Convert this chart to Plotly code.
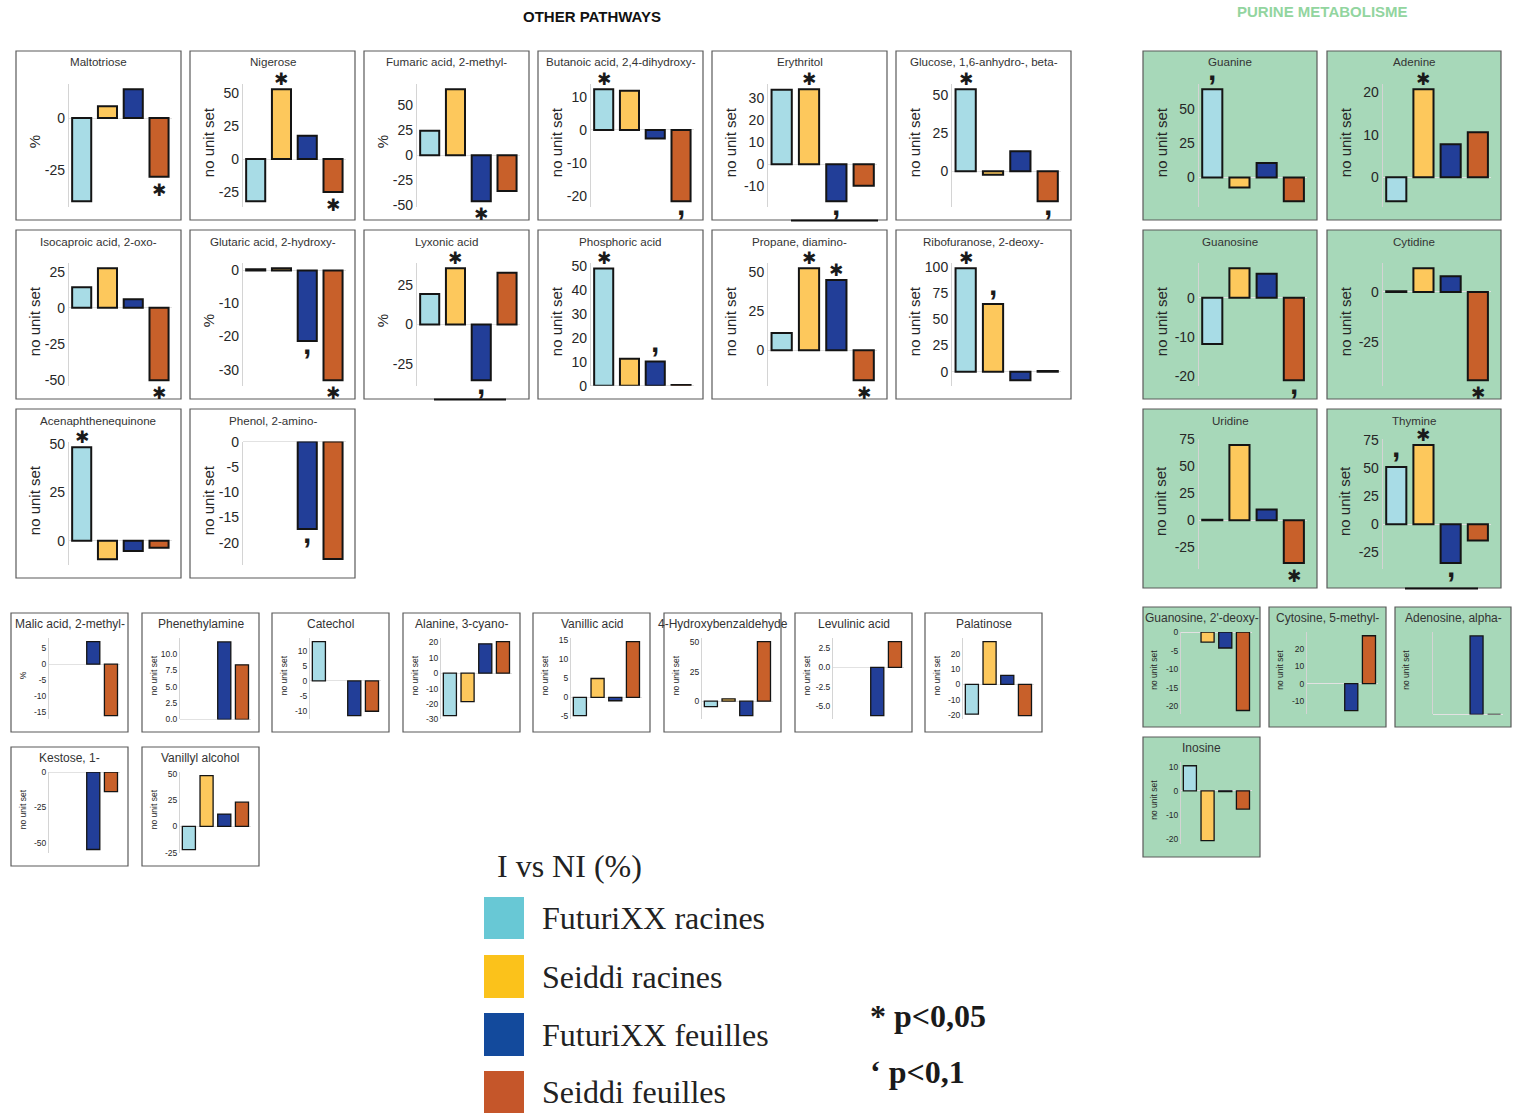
import plotly.graph_objects as go

W, H = 1520, 1113

# ---------------- data ----------------
CATEGORIES = ["FuturiXX racines", "Seiddi racines", "FuturiXX feuilles", "Seiddi feuilles"]
BAR_COLORS = ["#a8dce6", "#fdc85c", "#223e98", "#c8602a"]
LEGEND_COLORS = ["#68c8d5", "#fbc21b", "#134a9c", "#c5562a"]

TITLES = [
    "Maltotriose", "Nigerose", "Fumaric acid, 2-methyl-", "Butanoic acid, 2,4-dihydroxy-",
    "Erythritol", "Glucose, 1,6-anhydro-, beta-",
    "Isocaproic acid, 2-oxo-", "Glutaric acid, 2-hydroxy-", "Lyxonic acid", "Phosphoric acid",
    "Propane, diamino-", "Ribofuranose, 2-deoxy-",
    "Acenaphthenequinone", "Phenol, 2-amino-",
    "Malic acid, 2-methyl-", "Phenethylamine", "Catechol", "Alanine, 3-cyano-",
    "Vanillic acid", "4-Hydroxybenzaldehyde", "Levulinic acid", "Palatinose",
    "Kestose, 1-", "Vanillyl alcohol",
    "Guanine", "Adenine", "Guanosine", "Cytidine", "Uridine", "Thymine",
    "Guanosine, 2'-deoxy-", "Cytosine, 5-methyl-", "Adenosine, alpha-", "Inosine",
]

YLABELS = [
    "%", "no unit set", "%", "no unit set", "no unit set", "no unit set",
    "no unit set", "%", "%", "no unit set", "no unit set", "no unit set",
    "no unit set", "no unit set",
    "%", "no unit set", "no unit set", "no unit set",
    "no unit set", "no unit set", "no unit set", "no unit set",
    "no unit set", "no unit set",
    "no unit set", "no unit set", "no unit set", "no unit set", "no unit set", "no unit set",
    "no unit set", "no unit set", "no unit set", "no unit set",
]

VALUES = [
    [-40.1, 5.7, 13.9, -28.3],
    [-32.0, 53.0, 17.6, -25.0],
    [24.7, 66.4, -46.2, -36.0],
    [12.4, 11.9, -2.6, -21.7],
    [33.7, 34.0, -16.8, -9.8],
    [53.8, -2.2, 13.1, -19.6],
    [14.2, 27.4, 5.9, -50.1],
    [0.4, 0.7, -21.3, -33.2],
    [19.1, 35.3, -35.0, 32.5],
    [49.1, 11.3, 10.2, 0.3],
    [11.1, 52.8, 45.2, -19.3],
    [98.7, 64.5, -8.0, 0.8],
    [48.3, -9.6, -5.4, -3.7],
    [None, None, -17.3, -23.2],
    [None, None, 7.0, -16.0],
    [None, None, 11.8, 8.3],
    [13.2, None, -11.7, -10.2],
    [-27.7, -18.5, 19.1, 20.5],
    [-4.8, 4.9, -0.9, 14.5],
    [-4.7, 2.0, -12.3, 50.3],
    [None, None, -6.2, 3.3],
    [-19.5, 28.0, 5.9, -20.5],
    [None, None, -54.9, -13.9],
    [-22.3, 48.3, 11.7, 23.0],
    [64.6, -7.3, 10.6, -17.4],
    [-5.6, 20.7, 7.8, 10.6],
    [-11.8, 7.5, 6.1, -21.0],
    [0.3, 11.9, 7.8, -44.3],
    [0.5, 70.0, 10.0, -39.7],
    [51.0, 70.6, -34.5, -14.4],
    [None, -2.7, -4.3, -21.1],
    [None, None, -15.4, 27.4],
    [None, None, 10.0, 0.0],
    [10.4, -20.7, -0.3, -7.6],
]

# "*" = p<0.05, "," = p<0.1
MARKS = [
    ["", "", "", "*"], ["", "*", "", "*"], ["", "", "*", ""], ["*", "", "", ","],
    ["", "*", ",", ""], ["*", "", "", ","],
    ["", "", "", "*"], ["", "", ",", "*"], ["", "*", ",", ""], ["*", "", ",", ""],
    ["", "*", "*", "*"], ["*", ",", "", ""],
    ["*", "", "", ""], ["", "", ",", ""],
    [""] * 4, [""] * 4, [""] * 4, [""] * 4, [""] * 4, [""] * 4, [""] * 4, [""] * 4,
    [""] * 4, [""] * 4,
    [",", "", "", ""], ["", "*", "", ""], ["", "", "", ","], ["", "", "", "*"],
    ["", "", "", "*"], [",", "*", ",", ""],
    [""] * 4, [""] * 4, [""] * 4, [""] * 4,
]

TICK_LABELS = [
    ["0", "-25"], ["50", "25", "0", "-25"], ["50", "25", "0", "-25", "-50"],
    ["10", "0", "-10", "-20"], ["30", "20", "10", "0", "-10"], ["50", "25", "0"],
    ["25", "0", "-25", "-50"], ["0", "-10", "-20", "-30"], ["25", "0", "-25"],
    ["50", "40", "30", "20", "10", "0"], ["50", "25", "0"], ["100", "75", "50", "25", "0"],
    ["50", "25", "0"], ["0", "-5", "-10", "-15", "-20"],
    ["5", "0", "-5", "-10", "-15"], ["10.0", "7.5", "5.0", "2.5", "0.0"],
    ["10", "5", "0", "-5", "-10"], ["20", "10", "0", "-10", "-20", "-30"],
    ["15", "10", "5", "0", "-5"], ["50", "25", "0"], ["2.5", "0.0", "-2.5", "-5.0"],
    ["20", "10", "0", "-10", "-20"],
    ["0", "-25", "-50"], ["50", "25", "0", "-25"],
    ["50", "25", "0"], ["20", "10", "0"], ["0", "-10", "-20"], ["0", "-25"],
    ["75", "50", "25", "0", "-25"], ["75", "50", "25", "0", "-25"],
    ["0", "-5", "-10", "-15", "-20"], ["20", "10", "0", "-10"], [], ["10", "0", "-10", "-20"],
]

SECTION_TITLES = ["OTHER PATHWAYS", "PURINE METABOLISME"]
LEGEND_TITLE = "I vs NI (%)"
SIG_LABELS = ["* p<0,05", "\u2018 p<0,1"]

# ---------------- layout (panel boxes in pixels: x0, y0, x1, y1, kind, green) ----------------
BOXES = []
big_x = [(16, 181), (190, 355), (364, 529), (538, 703), (712, 887), (896, 1071)]
for (a, b) in big_x:
    BOXES.append((a, 51, b, 220, "L", False))
for (a, b) in big_x:
    BOXES.append((a, 230, b, 399, "L", False))
for (a, b) in big_x[:2]:
    BOXES.append((a, 409, b, 578, "L", False))
for a in [11, 142, 272, 403, 533, 664, 795, 925]:
    BOXES.append((a, 613, a + 117, 732, "S", False))
for a in [11, 142]:
    BOXES.append((a, 747, a + 117, 866, "S", False))
pur_x = [(1143, 1317), (1327, 1501)]
for (y0, y1, kind) in [(51, 220, "L"), (230, 399, "L"), (409, 588, "T")]:
    for (a, b) in pur_x:
        BOXES.append((a, y0, b, y1, kind, True))
for a, b in [(1143, 1260), (1269, 1386), (1395, 1511)]:
    BOXES.append((a, 607, b, 727, "S", True))
BOXES.append((1143, 737, 1260, 857, "S", True))

# dark border fragments under some panels (as in the source collage)
EDGE_MARKS = [(791, 878, 220.5), (434, 506, 399.5), (1405, 1478, 588.5)]


def px(x):
    return x / W


def py(y):
    return 1 - y / H


fig = go.Figure()
shapes = []
annotations = []
GREEN = "#a7d8b9"
TEXT = "#262626"
SANS = "Liberation Sans, Arial, sans-serif"

for i, (x0, y0, x1, y1, kind, green) in enumerate(BOXES):
    k = i + 1
    w = x1 - x0
    if kind == "S":
        pl, pr, pt, pb = x0 + 0.325 * w, x0 + 0.93 * w, y0 + 25, y1 - 12.6
        tick_fs, ytitle_fs, stand, ytx, lw, ttl_fs = 8.5, 8.5, 0, x0 + 11.5, 1.3, 12
    else:
        pl, pr = x0 + 0.32 * w, x0 + 0.945 * w
        pt = y0 + 32.6 if kind == "L" else y0 + 30
        pb = y1 - 13.2 if kind == "L" else y1 - 19
        tick_fs, ytitle_fs, stand, ytx, lw, ttl_fs = 14, 15, 0, x0 + 18, 2, 11.6

    shapes.append(dict(type="rect", xref="paper", yref="paper",
                       x0=px(x0), x1=px(x1), y0=py(y1), y1=py(y0),
                       line=dict(color="#5a5a5a", width=1.2),
                       fillcolor=GREEN if green else "white", layer="below"))

    vals = VALUES[i]
    present = [v for v in vals if v is not None]
    lo = min(0, min(present))
    hi = max(0, max(present))
    span = hi - lo
    r0 = lo - 0.05 * span if lo < 0 else lo
    r1 = hi + 0.05 * span if hi > 0 else hi

    fig.add_trace(go.Bar(
        x=CATEGORIES, y=vals, width=0.74,
        marker=dict(color=BAR_COLORS, line=dict(color="#141414", width=lw)),
        xaxis=f"x{k}", yaxis=f"y{k}", showlegend=False, hoverinfo="skip"))

    ticks = TICK_LABELS[i]
    fig.update_layout(**{
        f"xaxis{k}": dict(domain=[px(pl), px(pr)], anchor=f"y{k}", type="category",
                          range=[-0.5, 3.5], visible=False, fixedrange=True),
        f"yaxis{k}": dict(domain=[py(pb), py(pt)], anchor=f"x{k}", range=[r0, r1],
                          tickvals=[float(t) for t in ticks], ticktext=ticks,
                          showticklabels=len(ticks) > 0,
                          tickfont=dict(size=tick_fs, color=TEXT, family=SANS),
                          ticks="", ticklabelstandoff=stand, automargin=False,
                          showgrid=False, zeroline=True, zerolinecolor="#e2e2e2",
                          zerolinewidth=1, showline=True, linecolor="#d4d4d4",
                          linewidth=1, fixedrange=True),
    })

    # panel title
    annotations.append(dict(text=TITLES[i], x=px((x0 + x1) / 2), y=py(y0 + 11),
                            xref="paper", yref="paper", showarrow=False,
                            xanchor="center", yanchor="middle",
                            font=dict(size=ttl_fs, color="#333333", family=SANS)))
    # y title
    annotations.append(dict(text=YLABELS[i], x=px(ytx), y=py((pt + pb) / 2 - 3),
                            xref="paper", yref="paper", showarrow=False, textangle=-90,
                            xanchor="center", yanchor="middle",
                            font=dict(size=ytitle_fs, color=TEXT, family=SANS)))
    # significance marks
    for j, m in enumerate(MARKS[i]):
        if not m or vals[j] is None:
            continue
        v = vals[j]
        up = v >= 0
        if m == "*":
            annotations.append(dict(text="\u2731", x=CATEGORIES[j], y=v, xref=f"x{k}", yref=f"y{k}",
                                    showarrow=False, yanchor="middle", yshift=10 if up else -13,
                                    font=dict(size=17, color="#1a1a1a", family="DejaVu Sans")))
        else:
            annotations.append(dict(text="<b>,</b>", x=CATEGORIES[j], y=v, xref=f"x{k}", yref=f"y{k}",
                                    showarrow=False, yanchor="middle", yshift=20 if up else -3,
                                    font=dict(size=30, color="#1a1a1a", family=SANS)))

for (xa, xb, yy) in EDGE_MARKS:
    shapes.append(dict(type="line", xref="paper", yref="paper", x0=px(xa), x1=px(xb),
                       y0=py(yy), y1=py(yy), line=dict(color="#111111", width=2)))

# section headers
annotations.append(dict(text=f"<b>{SECTION_TITLES[0]}</b>", x=px(592), y=py(16), xref="paper",
                        yref="paper", showarrow=False, xanchor="center", yanchor="middle",
                        font=dict(size=15, color="#111111", family=SANS)))
annotations.append(dict(text=f"<b>{SECTION_TITLES[1]}</b>", x=px(1322), y=py(12), xref="paper",
                        yref="paper", showarrow=False, xanchor="center", yanchor="middle",
                        font=dict(size=15, color="#92d59f", family=SANS)))

# legend
SERIF = "Liberation Serif, Times New Roman, serif"
annotations.append(dict(text=LEGEND_TITLE, x=px(495), y=py(866), xref="paper", yref="paper",
                        showarrow=False, xanchor="left", yanchor="middle",
                        font=dict(size=32, color="#222222", family=SERIF)))
leg_rows = [(897, 939), (955, 998), (1013, 1056), (1071, 1113)]
for (ya, yb), col, lab in zip(leg_rows, LEGEND_COLORS, CATEGORIES):
    shapes.append(dict(type="rect", xref="paper", yref="paper", x0=px(484), x1=px(524),
                       y0=py(yb), y1=py(ya), fillcolor=col, line=dict(width=0)))
    annotations.append(dict(text=lab, x=px(540), y=py((ya + yb) / 2), xref="paper", yref="paper",
                            showarrow=False, xanchor="left", yanchor="middle",
                            font=dict(size=32, color="#222222", family=SERIF)))
for lab, yc in zip(SIG_LABELS, [1016, 1072]):
    annotations.append(dict(text=f"<b>{lab}</b>", x=px(868), y=py(yc), xref="paper", yref="paper",
                            showarrow=False, xanchor="left", yanchor="middle",
                            font=dict(size=32, color="#1a1a1a", family=SERIF)))

fig.update_layout(width=W, height=H,
                  margin=dict(l=0, r=0, t=0, b=0, pad=0, autoexpand=False),
                  paper_bgcolor="white", plot_bgcolor="rgba(0,0,0,0)",
                  shapes=shapes, annotations=annotations, bargap=0.26)

fig.write_html("out.html", config={"displayModeBar": False, "staticPlot": True},
               post_script="document.body.style.margin='0px';document.body.style.overflow='hidden';")
